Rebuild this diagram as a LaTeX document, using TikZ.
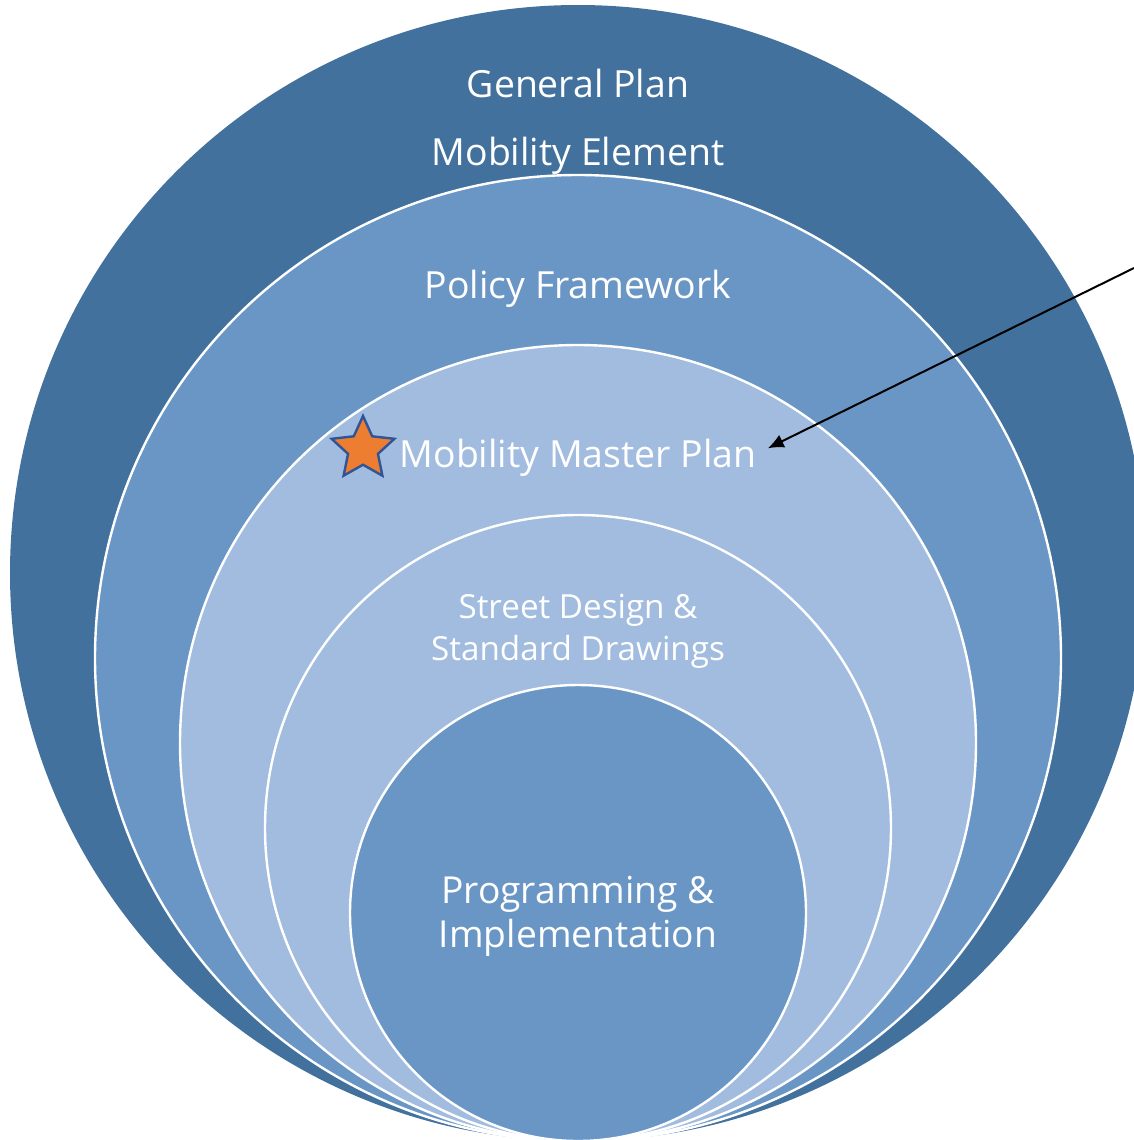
\documentclass[tikz,border=0pt]{standalone}
\usepackage{fontspec}
\setmainfont{Open Sans}
\usetikzlibrary{arrows.meta,shapes.geometric,calc}

\definecolor{darkblue}{HTML}{41719C}
\definecolor{midblue}{HTML}{6A96C6}
\definecolor{paleblue}{HTML}{A1BCDF}
\definecolor{starfill}{HTML}{ED7D31}
\definecolor{starline}{HTML}{2F5597}

\begin{document}
\begin{tikzpicture}[x=0.5pt,y=-0.5pt,
	ring/.style={circle,inner sep=0pt,outer sep=0pt},
	rim/.style={draw=white,line width=1.2pt},
	lbl/.style={text=white,anchor=base,inner sep=0pt,align=center,
		font=\fontsize{18.7}{22}\selectfont},
	lblsmall/.style={lbl,font=\fontsize{16.6}{21}\selectfont}]
		\useasboundingbox (0,0) rectangle (1134,1140);
		\clip (0,0) rectangle (1134,1140);
%		\draw[help lines,step=100] (0,0) grid (1134,1140);
		\path (578,573) coordinate (c1);
		\path (578,658) coordinate (c2);
		\path (578,743) coordinate (c3);
		\path (578,828) coordinate (c4);
		\path (578,913) coordinate (c5);
		\path (1134,268) coordinate (pointer);

		% rings, all touching at the bottom
		\node[ring,fill=darkblue,minimum size=568pt] (general) at (c1) {};
		\node[ring,rim,fill=midblue,minimum size=483pt] (policy) at (c2) {};
		\node[ring,rim,fill=paleblue,minimum size=398pt] (master) at (c3) {};
		\node[ring,rim,fill=paleblue,minimum size=313pt] (street) at (c4) {};
		\node[ring,rim,fill=midblue,minimum size=228pt] (program) at (c5) {};

		\node[lbl] (generaltext) at (578,97) {General Plan};
		\node[lbl] (elementtext) at (578,165) {Mobility Element};
		\node[lbl] (policytext) at (578,298) {Policy Framework};
		\node[lbl] (mastertext) at (578,467) {Mobility Master Plan};
		\node[lblsmall] (streettext) at (578,660) {Street Design \&\\Standard Drawings};
		\node[lbl,font=\fontsize{18.6}{22}\selectfont] (programtext) at (578,947) {Programming \&\\Implementation};

		\node[star,star points=5,star point ratio=2.1,minimum size=33pt,inner sep=0pt,
			fill=starfill,draw=starline,line width=1.2pt] (mark) at (363,449) {};

		\draw[line width=1pt,-{Latex[length=8pt,width=7pt]}] (pointer) -- ($(mastertext.east)+(11,-9)$);
	\end{tikzpicture}
\end{document}
